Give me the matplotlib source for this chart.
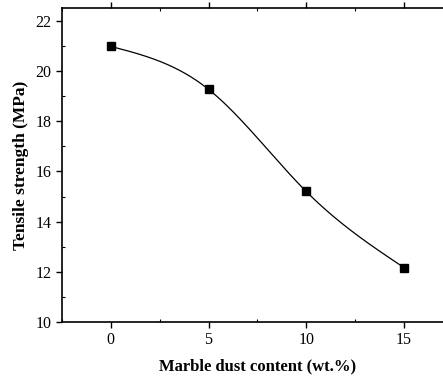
import numpy as np
import matplotlib.pyplot as plt
from matplotlib.ticker import MultipleLocator

plt.rcParams['font.family'] = ['Liberation Serif', 'DejaVu Serif']

# data
content = np.array([0, 5, 10, 15])
strength = np.array([20.98, 19.27, 15.2, 12.17])


def natural_spline(x, y, xs):
    # natural cubic spline through the points
    n = len(x)
    h = np.diff(x)
    A = np.zeros((n, n))
    b = np.zeros(n)
    A[0, 0] = 1
    A[-1, -1] = 1
    for i in range(1, n - 1):
        A[i, i - 1] = h[i - 1]
        A[i, i] = 2 * (h[i - 1] + h[i])
        A[i, i + 1] = h[i]
        b[i] = 3 * ((y[i + 1] - y[i]) / h[i] - (y[i] - y[i - 1]) / h[i - 1])
    c = np.linalg.solve(A, b)
    out = np.zeros_like(xs)
    for k, xv in enumerate(xs):
        i = min(np.searchsorted(x, xv, side='right') - 1, n - 2)
        i = max(i, 0)
        dx = xv - x[i]
        bi = (y[i + 1] - y[i]) / h[i] - h[i] * (2 * c[i] + c[i + 1]) / 3
        di = (c[i + 1] - c[i]) / (3 * h[i])
        out[k] = y[i] + bi * dx + c[i] * dx ** 2 + di * dx ** 3
    return out


xs = np.linspace(content[0], content[-1], 300)
ys = natural_spline(content.astype(float), strength, xs)

fig = plt.figure(figsize=(4.43, 3.76), dpi=100)
ax = fig.add_axes([0.140, 0.1436, 0.882, 0.8344])

ax.plot(xs, ys, color='black', lw=0.9)
ax.plot(content, strength, 's', color='black', ms=6)

ax.set_xlim(-2.5, 17.5)
ax.set_ylim(10, 22.5)
ax.xaxis.set_major_locator(MultipleLocator(5))
ax.xaxis.set_minor_locator(MultipleLocator(2.5))
ax.yaxis.set_major_locator(MultipleLocator(2))
ax.yaxis.set_minor_locator(MultipleLocator(1))
ax.tick_params(which='major', direction='out', length=4, width=1, labelsize=11.5,
               top=True, right=True)
ax.tick_params(which='minor', direction='in', length=2.5, width=0.8,
               top=True, right=True)
for sp in ax.spines.values():
    sp.set_linewidth(1.2)

ax.set_xlabel('Marble dust content (wt.%)', fontsize=12, fontweight='bold', labelpad=7)
ax.set_ylabel('Tensile strength (MPa)', fontsize=12.5, fontweight='bold', labelpad=5)

fig.savefig('out.png', dpi=100)
